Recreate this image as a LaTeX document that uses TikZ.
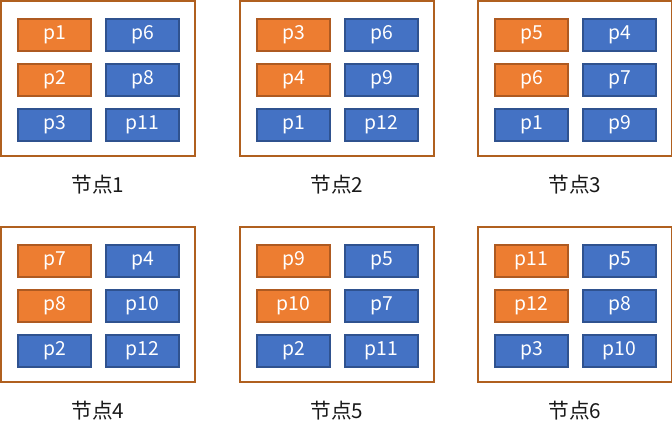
\documentclass[tikz,border=0pt]{standalone}
\usepackage{fontspec}
\usepackage{xcolor}
\usetikzlibrary{positioning}
\newfontfamily\cjk{Noto Sans CJK SC}
\definecolor{porange}{HTML}{ED7D31}
\definecolor{porangeline}{HTML}{AE5A21}
\definecolor{pblue}{HTML}{4472C4}
\definecolor{pblueline}{HTML}{2F528F}
\definecolor{frameline}{HTML}{B0601F}
\tikzset{
  part/.style={
    shape = rectangle,
    draw,
    line width = 1.1pt,
    minimum width = 54.75pt,
    minimum height = 24pt,
    inner sep = 0pt,
    text = white,
    font = \cjk\fontsize{14.5}{17}\selectfont
  },
  primary/.style={
    part,
    fill = porange,
    draw = porangeline
  },
  replica/.style={
    part,
    fill = pblue,
    draw = pblueline
  },
  machine/.style={
    shape = rectangle,
    draw = frameline,
    line width = 1.5pt,
    minimum width = 145.5pt,
    minimum height = 116.25pt,
    inner sep = 0pt
  },
  caption/.style={
    font = \cjk\fontsize{15.5}{18}\selectfont,
    text = black!90
  }
}
% #1 name, #2-#4 left column, #5-#7 right column
\newcommand{\machinebox}[7]{%
    \node[machine] (#1) at (98,78.5) {};
    \node[primary] (#1-l1) at (54.5,35) {#2};
    \node[primary] (#1-l2) at (54.5,80) {#3};
    \node[replica] (#1-l3) at (54.5,125) {#4};
    \node[replica] (#1-r1) at (142.5,35) {#5};
    \node[replica] (#1-r2) at (142.5,80) {#6};
    \node[replica] (#1-r3) at (142.5,125) {#7};
}
\begin{document}
\begin{tikzpicture}[x=0.75pt,y=-0.75pt]
    \useasboundingbox (0,0) rectangle (672,438);

    \begin{scope}[shift={(0,0)}]
        \machinebox{m1}{p1}{p2}{p3}{p6}{p8}{p11}
        \node[caption] (c1) at (98,185) {节点1};
    \end{scope}
    \begin{scope}[shift={(239,0)}]
        \machinebox{m2}{p3}{p4}{p1}{p6}{p9}{p12}
        \node[caption] (c2) at (98,185) {节点2};
    \end{scope}
    \begin{scope}[shift={(477,0)}]
        \machinebox{m3}{p5}{p6}{p1}{p4}{p7}{p9}
        \node[caption] (c3) at (98,185) {节点3};
    \end{scope}

    \begin{scope}[shift={(0,226)}]
        \machinebox{m4}{p7}{p8}{p2}{p4}{p10}{p12}
        \node[caption] (c4) at (98,185) {节点4};
    \end{scope}
    \begin{scope}[shift={(239,226)}]
        \machinebox{m5}{p9}{p10}{p2}{p5}{p7}{p11}
        \node[caption] (c5) at (98,185) {节点5};
    \end{scope}
    \begin{scope}[shift={(477,226)}]
        \machinebox{m6}{p11}{p12}{p3}{p5}{p8}{p10}
        \node[caption] (c6) at (98,185) {节点6};
    \end{scope}
\end{tikzpicture}
\end{document}
